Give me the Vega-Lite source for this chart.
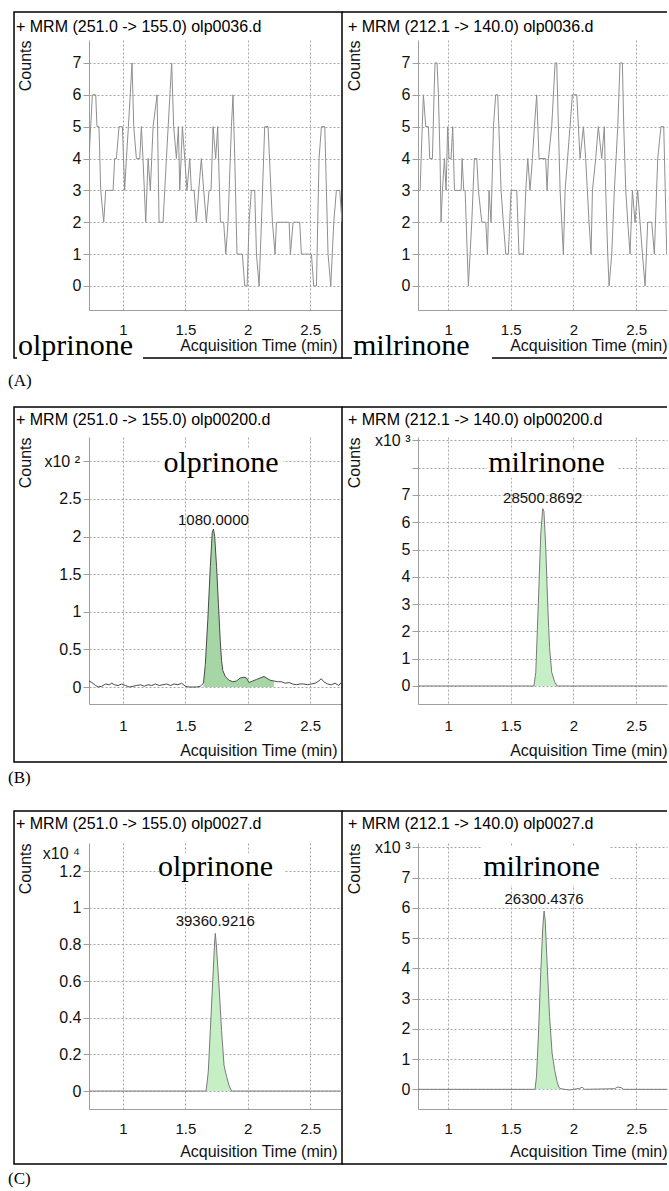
{
  "$schema": "https://vega.github.io/schema/vega-lite/v6.json",
  "background": "white",
  "padding": {"left": 8, "top": 11, "right": 0, "bottom": 0},
  "config": {
    "view": {"stroke": null},
    "axis": {"grid": true, "labelOverlap": false, "labelFlush": false, "tickCount": 30, "gridDash": [2, 2], "gridColor": "#a6a6a6", "gridOpacity": 1, "gridWidth": 1, "domainColor": "#9e9e9e", "tickColor": "#9e9e9e", "labelFont": "Liberation Sans", "titleFont": "Liberation Sans", "labelColor": "#111111", "titleColor": "#111111", "titleFontWeight": "normal", "titleFontSize": 16},
    "axisX": {"labelFontSize": 15, "ticks": false},
    "axisY": {"labelFontSize": 16, "tickSize": 6, "labelPadding": 2}
  },
  "datasets": {
    "aOlp": [{"t":0.727,"v":4},{"t":0.754,"v":6},{"t":0.781,"v":6},{"t":0.791,"v":5},{"t":0.807,"v":5},{"t":0.821,"v":3},{"t":0.845,"v":2},{"t":0.861,"v":3},{"t":0.92,"v":3},{"t":0.933,"v":4},{"t":0.947,"v":4},{"t":0.968,"v":5},{"t":0.995,"v":5},{"t":1.013,"v":3},{"t":1.027,"v":4},{"t":1.043,"v":5},{"t":1.072,"v":7},{"t":1.086,"v":5},{"t":1.107,"v":4},{"t":1.134,"v":4},{"t":1.147,"v":5},{"t":1.16,"v":4},{"t":1.182,"v":2},{"t":1.201,"v":4},{"t":1.219,"v":3},{"t":1.241,"v":5},{"t":1.273,"v":6},{"t":1.289,"v":2},{"t":1.321,"v":2},{"t":1.348,"v":4},{"t":1.39,"v":7},{"t":1.406,"v":5},{"t":1.428,"v":4},{"t":1.444,"v":5},{"t":1.455,"v":3},{"t":1.476,"v":5},{"t":1.495,"v":4},{"t":1.513,"v":3},{"t":1.535,"v":4},{"t":1.548,"v":3},{"t":1.57,"v":3},{"t":1.588,"v":2},{"t":1.607,"v":3},{"t":1.628,"v":4},{"t":1.647,"v":3},{"t":1.668,"v":2},{"t":1.69,"v":3},{"t":1.706,"v":3},{"t":1.722,"v":5},{"t":1.743,"v":4},{"t":1.759,"v":5},{"t":1.781,"v":2},{"t":1.807,"v":2},{"t":1.824,"v":1},{"t":1.842,"v":2},{"t":1.869,"v":5},{"t":1.882,"v":6},{"t":1.896,"v":4},{"t":1.914,"v":1},{"t":1.957,"v":1},{"t":1.976,"v":0},{"t":1.995,"v":0},{"t":2.011,"v":2},{"t":2.029,"v":3},{"t":2.056,"v":3},{"t":2.07,"v":1},{"t":2.091,"v":0},{"t":2.11,"v":2},{"t":2.136,"v":5},{"t":2.163,"v":5},{"t":2.198,"v":2},{"t":2.219,"v":1},{"t":2.23,"v":2},{"t":2.332,"v":2},{"t":2.342,"v":1},{"t":2.364,"v":2},{"t":2.417,"v":2},{"t":2.43,"v":1},{"t":2.511,"v":1},{"t":2.529,"v":0},{"t":2.551,"v":0},{"t":2.572,"v":4},{"t":2.591,"v":5},{"t":2.618,"v":5},{"t":2.644,"v":1},{"t":2.666,"v":0},{"t":2.69,"v":2},{"t":2.711,"v":3},{"t":2.738,"v":3},{"t":2.756,"v":2}],
    "aMil": [{"t":0.777,"v":3},{"t":0.785,"v":4},{"t":0.803,"v":6},{"t":0.822,"v":5},{"t":0.843,"v":5},{"t":0.854,"v":4},{"t":0.875,"v":4},{"t":0.888,"v":6},{"t":0.896,"v":7},{"t":0.912,"v":7},{"t":0.923,"v":6},{"t":0.936,"v":4},{"t":0.944,"v":2},{"t":0.955,"v":3},{"t":0.971,"v":4},{"t":0.984,"v":3},{"t":0.997,"v":5},{"t":1.008,"v":4},{"t":1.024,"v":4},{"t":1.037,"v":5},{"t":1.051,"v":3},{"t":1.104,"v":3},{"t":1.112,"v":4},{"t":1.125,"v":3},{"t":1.136,"v":3},{"t":1.162,"v":0},{"t":1.189,"v":2},{"t":1.21,"v":4},{"t":1.229,"v":4},{"t":1.242,"v":3},{"t":1.269,"v":2},{"t":1.301,"v":2},{"t":1.314,"v":1},{"t":1.327,"v":3},{"t":1.343,"v":2},{"t":1.362,"v":5},{"t":1.38,"v":6},{"t":1.396,"v":6},{"t":1.423,"v":3},{"t":1.441,"v":2},{"t":1.46,"v":1},{"t":1.481,"v":1},{"t":1.503,"v":3},{"t":1.548,"v":3},{"t":1.566,"v":1},{"t":1.601,"v":1},{"t":1.62,"v":3},{"t":1.636,"v":4},{"t":1.654,"v":3},{"t":1.673,"v":4},{"t":1.689,"v":5},{"t":1.707,"v":6},{"t":1.726,"v":4},{"t":1.779,"v":4},{"t":1.79,"v":3},{"t":1.801,"v":4},{"t":1.827,"v":5},{"t":1.854,"v":7},{"t":1.867,"v":7},{"t":1.894,"v":3},{"t":1.92,"v":1},{"t":1.934,"v":3},{"t":1.973,"v":5},{"t":1.992,"v":6},{"t":2.027,"v":6},{"t":2.053,"v":4},{"t":2.08,"v":5},{"t":2.098,"v":4},{"t":2.125,"v":2},{"t":2.141,"v":1},{"t":2.152,"v":3},{"t":2.178,"v":4},{"t":2.199,"v":5},{"t":2.226,"v":4},{"t":2.247,"v":5},{"t":2.258,"v":3},{"t":2.274,"v":1},{"t":2.285,"v":0},{"t":2.306,"v":1},{"t":2.327,"v":3},{"t":2.354,"v":5},{"t":2.372,"v":7},{"t":2.391,"v":7},{"t":2.402,"v":5},{"t":2.418,"v":3},{"t":2.434,"v":2},{"t":2.452,"v":1},{"t":2.471,"v":3},{"t":2.492,"v":2},{"t":2.513,"v":3},{"t":2.532,"v":2},{"t":2.551,"v":1},{"t":2.572,"v":0},{"t":2.593,"v":2},{"t":2.625,"v":2},{"t":2.646,"v":1},{"t":2.673,"v":4},{"t":2.699,"v":5},{"t":2.721,"v":5},{"t":2.745,"v":1}],
    "bOlp": [{"t":0.727,"v":8},{"t":0.75,"v":6},{"t":0.78,"v":2},{"t":0.8,"v":0},{"t":0.83,"v":1},{"t":0.86,"v":4},{"t":0.89,"v":3},{"t":0.91,"v":5},{"t":0.93,"v":3},{"t":0.96,"v":2},{"t":0.99,"v":4},{"t":1.02,"v":2},{"t":1.05,"v":0},{"t":1.08,"v":1},{"t":1.11,"v":2},{"t":1.14,"v":3},{"t":1.17,"v":1},{"t":1.2,"v":3},{"t":1.23,"v":2},{"t":1.26,"v":4},{"t":1.29,"v":2},{"t":1.32,"v":3},{"t":1.35,"v":4},{"t":1.38,"v":2},{"t":1.41,"v":4},{"t":1.44,"v":3},{"t":1.47,"v":5},{"t":1.5,"v":1},{"t":1.53,"v":0},{"t":1.56,"v":0},{"t":1.59,"v":0},{"t":1.62,"v":1},{"t":1.645,"v":5},{"t":1.66,"v":30},{"t":1.68,"v":90},{"t":1.7,"v":160},{"t":1.715,"v":205},{"t":1.725,"v":210,"label":"1080.0000"},{"t":1.735,"v":200},{"t":1.75,"v":160},{"t":1.765,"v":110},{"t":1.78,"v":60},{"t":1.79,"v":35},{"t":1.8,"v":22},{"t":1.82,"v":14},{"t":1.85,"v":9},{"t":1.88,"v":7},{"t":1.91,"v":8},{"t":1.94,"v":12},{"t":1.97,"v":13},{"t":1.99,"v":12},{"t":2.01,"v":6},{"t":2.04,"v":8},{"t":2.07,"v":10},{"t":2.1,"v":12},{"t":2.13,"v":14},{"t":2.15,"v":12},{"t":2.18,"v":9},{"t":2.21,"v":8},{"t":2.24,"v":7},{"t":2.27,"v":7},{"t":2.3,"v":5},{"t":2.33,"v":6},{"t":2.36,"v":4},{"t":2.39,"v":3},{"t":2.42,"v":4},{"t":2.45,"v":4},{"t":2.48,"v":3},{"t":2.51,"v":4},{"t":2.54,"v":5},{"t":2.57,"v":8},{"t":2.59,"v":11},{"t":2.61,"v":7},{"t":2.64,"v":4},{"t":2.67,"v":3},{"t":2.7,"v":5},{"t":2.73,"v":2},{"t":2.756,"v":7}],
    "bMil": [{"t":0.76,"v":0},{"t":1.685,"v":0},{"t":1.7,"v":500},{"t":1.72,"v":3000},{"t":1.74,"v":5600},{"t":1.755,"v":6500,"label":"28500.8692"},{"t":1.765,"v":6400},{"t":1.78,"v":5000},{"t":1.795,"v":3000},{"t":1.81,"v":1400},{"t":1.827,"v":500},{"t":1.85,"v":160},{"t":1.87,"v":0},{"t":2.747,"v":0}],
    "cOlp": [{"t":0.727,"v":0},{"t":1.665,"v":0},{"t":1.675,"v":500},{"t":1.684,"v":1100},{"t":1.7,"v":3300},{"t":1.72,"v":6100},{"t":1.735,"v":8200},{"t":1.74,"v":8600,"label":"39360.9216"},{"t":1.75,"v":7800},{"t":1.77,"v":5700},{"t":1.79,"v":3300},{"t":1.81,"v":1400},{"t":1.83,"v":800},{"t":1.85,"v":300},{"t":1.87,"v":0},{"t":2.756,"v":0}],
    "cMil": [{"t":0.76,"v":0},{"t":1.694,"v":0},{"t":1.705,"v":400},{"t":1.72,"v":1700},{"t":1.74,"v":3900},{"t":1.755,"v":5300},{"t":1.766,"v":5900,"label":"26300.4376"},{"t":1.775,"v":5600},{"t":1.79,"v":4200},{"t":1.81,"v":2400},{"t":1.83,"v":1200},{"t":1.85,"v":650},{"t":1.87,"v":250},{"t":1.885,"v":60},{"t":1.9,"v":20},{"t":1.93,"v":0},{"t":1.97,"v":-20},{"t":2.0,"v":0},{"t":2.05,"v":30},{"t":2.07,"v":70},{"t":2.09,"v":0},{"t":2.33,"v":20},{"t":2.35,"v":70},{"t":2.38,"v":60},{"t":2.4,"v":0},{"t":2.747,"v":0}]
  },
  "spacing": 23,
  "bounds": "full",
  "vconcat": [
    {
      "spacing": 17,
      "bounds": "full",
      "vconcat": [
        {
          "spacing": 76,
          "bounds": "flush",
          "hconcat": [
            {
              "width": 253, "height": 270,
              "layer": [
                {"data": {"values": [{}]}, "mark": {"type": "rect", "filled": false, "color": "black", "strokeWidth": 1.5},
                 "encoding": {"x": {"datum": 0.1256, "type": "quantitative", "scale": {"domain": [0.727, 2.756], "nice": false, "zero": false}}, "x2": {"datum": 2.756}, "y": {"datum": 8.599, "type": "quantitative", "scale": {"domain": [-0.755, 7.72], "nice": false, "zero": false}}, "y2": {"datum": -2.261}}},
                {"data": {"values": [{}]}, "mark": {"type": "rect", "color": "white"},
                 "encoding": {"x": {"datum": 0.1496, "type": "quantitative", "scale": {"domain": [0.727, 2.756], "nice": false, "zero": false}}, "x2": {"datum": 1.16}, "y": {"datum": -1.665, "type": "quantitative", "scale": {"domain": [-0.755, 7.72], "nice": false, "zero": false}}, "y2": {"datum": -2.512}}},
                {"data": {"name": "aOlp"}, "mark": {"type": "line", "color": "#8f8f8f", "strokeWidth": 1, "clip": true},
                 "encoding": {
                   "x": {"field": "t", "type": "quantitative", "scale": {"domain": [0.727, 2.756], "nice": false, "zero": false},
                         "axis": {"title": "Acquisition Time (min)", "grid": true, "labelOverlap": false, "tickCount": 30, "values": [1, 1.5, 2, 2.5], "format": "~g", "labelPadding": 12, "titleAnchor": "end", "titleAlign": "right", "titleX": 248, "titleY": 40, "titleBaseline": "alphabetic"}},
                   "y": {"field": "v", "type": "quantitative", "scale": {"domain": [-0.755, 7.72], "nice": false, "zero": false},
                         "axis": {"title": "Counts", "grid": true, "labelOverlap": false, "tickCount": 30, "values": [0, 1, 2, 3, 4, 5, 6, 7], "format": "d", "titleAnchor": "end", "titleAlign": "right", "titleAngle": 270, "titleX": -56, "titleY": 0, "titleBaseline": "bottom"}}}},
                {"data": {"values": [{}]}, "mark": {"type": "text", "text": "olprinone", "font": "Liberation Serif", "fontSize": 30, "align": "left", "baseline": "alphabetic", "color": "black"},
                 "encoding": {"x": {"datum": 0.1576, "type": "quantitative"}, "y": {"datum": -2.167, "type": "quantitative"}}},
                {"data": {"values": [{}]}, "mark": {"type": "text", "text": "+ MRM (251.0 -> 155.0) olp0036.d", "font": "Liberation Sans", "fontSize": 16, "align": "left", "baseline": "alphabetic", "color": "black"},
                 "encoding": {"x": {"datum": 0.1416, "type": "quantitative"}, "y": {"datum": 7.971, "type": "quantitative"}}},
                {"data": {"values": [{}]}, "mark": {"type": "text", "text": "(A)", "font": "Liberation Serif", "fontSize": 17, "align": "left", "baseline": "alphabetic", "color": "black"},
                 "encoding": {"x": {"datum": 0.0774, "type": "quantitative"}, "y": {"datum": -3.14, "type": "quantitative"}}}
              ]
            },
            {
              "width": 249, "height": 270,
              "layer": [
                {"data": {"values": [{}]}, "mark": {"type": "rule", "color": "black", "strokeWidth": 1.5},
                 "encoding": {"x": {"datum": 0.1535, "type": "quantitative", "scale": {"domain": [0.76, 2.747], "nice": false, "zero": false}}, "x2": {"datum": 2.747}, "y": {"datum": 8.599, "type": "quantitative", "scale": {"domain": [-0.755, 7.72], "nice": false, "zero": false}}}},
                {"data": {"values": [{}]}, "mark": {"type": "rule", "color": "black", "strokeWidth": 1.5},
                 "encoding": {"x": {"datum": 0.1535, "type": "quantitative"}, "x2": {"datum": 2.747}, "y": {"datum": -2.261, "type": "quantitative"}}},
                {"data": {"values": [{}]}, "mark": {"type": "rect", "color": "white"},
                 "encoding": {"x": {"datum": 0.2333, "type": "quantitative"}, "x2": {"datum": 1.3506}, "y": {"datum": -1.665, "type": "quantitative"}, "y2": {"datum": -2.512}}},
                {"data": {"name": "aMil"}, "mark": {"type": "line", "color": "#8f8f8f", "strokeWidth": 1, "clip": true},
                 "encoding": {
                   "x": {"field": "t", "type": "quantitative", "scale": {"domain": [0.76, 2.747], "nice": false, "zero": false},
                         "axis": {"title": "Acquisition Time (min)", "grid": true, "labelOverlap": false, "tickCount": 30, "values": [1, 1.5, 2, 2.5], "format": "~g", "labelPadding": 12, "titleAnchor": "end", "titleAlign": "right", "titleX": 249, "titleY": 40, "titleBaseline": "alphabetic"}},
                   "y": {"field": "v", "type": "quantitative", "scale": {"domain": [-0.755, 7.72], "nice": false, "zero": false},
                         "axis": {"title": "Counts", "grid": true, "labelOverlap": false, "tickCount": 30, "values": [0, 1, 2, 3, 4, 5, 6, 7], "format": "d", "titleAnchor": "end", "titleAlign": "right", "titleAngle": 270, "titleX": -56, "titleY": 0, "titleBaseline": "bottom"}}}},
                {"data": {"values": [{}]}, "mark": {"type": "text", "text": "milrinone", "font": "Liberation Serif", "fontSize": 30, "align": "left", "baseline": "alphabetic", "color": "black"},
                 "encoding": {"x": {"datum": 0.2412, "type": "quantitative"}, "y": {"datum": -2.167, "type": "quantitative"}}},
                {"data": {"values": [{}]}, "mark": {"type": "text", "text": "+ MRM (212.1 -> 140.0) olp0036.d", "font": "Liberation Sans", "fontSize": 16, "align": "left", "baseline": "alphabetic", "color": "black"},
                 "encoding": {"x": {"datum": 0.2014, "type": "quantitative"}, "y": {"datum": 7.971, "type": "quantitative"}}}
              ]
            }
          ]
        },
        {
          "spacing": 76,
          "bounds": "flush",
          "hconcat": [
            {
              "width": 253, "height": 267,
              "layer": [
                {"data": {"values": [{}]}, "mark": {"type": "rect", "filled": false, "color": "black", "strokeWidth": 1.5},
                 "encoding": {"x": {"datum": 0.1256, "type": "quantitative", "scale": {"domain": [0.727, 2.756], "nice": false, "zero": false}}, "x2": {"datum": 2.756}, "y": {"datum": 372.3, "type": "quantitative", "scale": {"domain": [-22.6, 332.4], "nice": false, "zero": false}}, "y2": {"datum": -99.8}}},
                {"data": {"values": [{}]}, "mark": {"type": "rect", "color": "white"},
                 "encoding": {"x": {"datum": 1.296, "type": "quantitative"}, "x2": {"datum": 2.283}, "y": {"datum": 316.4, "type": "quantitative"}, "y2": {"datum": 275.2}}},
                {"data": {"name": "bOlp"}, "transform": [{"filter": "datum.t >= 1.64 && datum.t <= 2.215"}], "mark": {"type": "area", "color": "#a6d6a6", "opacity": 1},
                 "encoding": {"x": {"field": "t", "type": "quantitative"}, "y": {"field": "v", "type": "quantitative"}, "y2": {"datum": 0}}},
                {"data": {"name": "bOlp"}, "mark": {"type": "line", "color": "#4a4a4a", "strokeWidth": 1, "clip": true},
                 "encoding": {
                   "x": {"field": "t", "type": "quantitative", "scale": {"domain": [0.727, 2.756], "nice": false, "zero": false},
                         "axis": {"title": "Acquisition Time (min)", "grid": true, "labelOverlap": false, "tickCount": 30, "values": [1, 1.5, 2, 2.5], "format": "~g", "labelPadding": 14, "titleAnchor": "end", "titleAlign": "right", "titleX": 248, "titleY": 51, "titleBaseline": "alphabetic"}},
                   "y": {"field": "v", "type": "quantitative", "scale": {"domain": [-22.6, 332.4], "nice": false, "zero": false},
                         "axis": {"title": "Counts", "grid": true, "labelOverlap": false, "tickCount": 30, "values": [0, 50, 100, 150, 200, 250, 300], "labelExpr": "datum.value == 300 ? '' : format(datum.value / 100, '~g')", "titleAnchor": "end", "titleAlign": "right", "titleAngle": 270, "titleX": -56, "titleY": 0, "titleBaseline": "bottom"}}}},
                {"data": {"name": "bOlp"}, "transform": [{"filter": "isValid(datum.label)"}], "mark": {"type": "text", "font": "Liberation Sans", "fontSize": 15, "baseline": "alphabetic", "align": "center", "dy": -4, "color": "#111111"},
                 "encoding": {"x": {"field": "t", "type": "quantitative"}, "y": {"field": "v", "type": "quantitative"}, "text": {"field": "label"}}},
                {"data": {"values": [{}]}, "mark": {"type": "text", "text": "olprinone", "font": "Liberation Serif", "fontSize": 30, "align": "center", "baseline": "alphabetic", "color": "black"},
                 "encoding": {"x": {"datum": 1.7855, "type": "quantitative"}, "y": {"datum": 285.9, "type": "quantitative"}}},
                {"data": {"values": [{}]}, "mark": {"type": "text", "text": "x10 ²", "font": "Liberation Sans", "fontSize": 16, "align": "right", "baseline": "alphabetic", "color": "#111111"},
                 "encoding": {"x": {"datum": 0.6548, "type": "quantitative"}, "y": {"datum": 292.5, "type": "quantitative"}}},
                {"data": {"values": [{}]}, "mark": {"type": "text", "text": "+ MRM (251.0 -> 155.0) olp00200.d", "font": "Liberation Sans", "fontSize": 16, "align": "left", "baseline": "alphabetic", "color": "black"},
                 "encoding": {"x": {"datum": 0.1416, "type": "quantitative"}, "y": {"datum": 348.4, "type": "quantitative"}}},
                {"data": {"values": [{}]}, "mark": {"type": "text", "text": "(B)", "font": "Liberation Serif", "fontSize": 17, "align": "left", "baseline": "alphabetic", "color": "black"},
                 "encoding": {"x": {"datum": 0.0774, "type": "quantitative"}, "y": {"datum": -127.7, "type": "quantitative"}}}
              ]
            },
            {
              "width": 249, "height": 267,
              "layer": [
                {"data": {"values": [{}]}, "mark": {"type": "rule", "color": "black", "strokeWidth": 1.5},
                 "encoding": {"x": {"datum": 0.1535, "type": "quantitative", "scale": {"domain": [0.76, 2.747], "nice": false, "zero": false}}, "x2": {"datum": 2.747}, "y": {"datum": 10224, "type": "quantitative", "scale": {"domain": [-660, 9125], "nice": false, "zero": false}}}},
                {"data": {"values": [{}]}, "mark": {"type": "rule", "color": "black", "strokeWidth": 1.5},
                 "encoding": {"x": {"datum": 0.1535, "type": "quantitative"}, "x2": {"datum": 2.747}, "y": {"datum": -2784, "type": "quantitative"}}},
                {"data": {"values": [{}]}, "mark": {"type": "rect", "color": "white"},
                 "encoding": {"x": {"datum": 1.3107, "type": "quantitative"}, "x2": {"datum": 2.3562}, "y": {"datum": 8649, "type": "quantitative"}, "y2": {"datum": 7623}}},
                {"data": {"name": "bMil"}, "transform": [{"filter": "datum.t >= 1.685 && datum.t <= 1.87"}], "mark": {"type": "area", "color": "#c6efc6", "opacity": 1},
                 "encoding": {"x": {"field": "t", "type": "quantitative"}, "y": {"field": "v", "type": "quantitative"}, "y2": {"datum": 0}}},
                {"data": {"name": "bMil"}, "mark": {"type": "line", "color": "#7a7a7a", "strokeWidth": 1, "clip": true},
                 "encoding": {
                   "x": {"field": "t", "type": "quantitative", "scale": {"domain": [0.76, 2.747], "nice": false, "zero": false},
                         "axis": {"title": "Acquisition Time (min)", "grid": true, "labelOverlap": false, "tickCount": 30, "values": [1, 1.5, 2, 2.5], "format": "~g", "labelPadding": 14, "titleAnchor": "end", "titleAlign": "right", "titleX": 249, "titleY": 51, "titleBaseline": "alphabetic"}},
                   "y": {"field": "v", "type": "quantitative", "scale": {"domain": [-660, 9125], "nice": false, "zero": false},
                         "axis": {"title": "Counts", "grid": true, "labelOverlap": false, "tickCount": 30, "values": [0, 1000, 2000, 3000, 4000, 5000, 6000, 7000, 8000, 9000], "labelExpr": "datum.value == 9000 ? 'x10 ³' : (datum.value == 8000 ? '' : '' + datum.value / 1000)", "titleAnchor": "end", "titleAlign": "right", "titleAngle": 270, "titleX": -56, "titleY": 0, "titleBaseline": "bottom"}}}},
                {"data": {"name": "bMil"}, "transform": [{"filter": "isValid(datum.label)"}], "mark": {"type": "text", "font": "Liberation Sans", "fontSize": 15, "baseline": "alphabetic", "align": "center", "dy": -6, "color": "#111111"},
                 "encoding": {"x": {"field": "t", "type": "quantitative"}, "y": {"field": "v", "type": "quantitative"}, "text": {"field": "label"}}},
                {"data": {"values": [{}]}, "mark": {"type": "text", "text": "milrinone", "font": "Liberation Serif", "fontSize": 30, "align": "center", "baseline": "alphabetic", "color": "black"},
                 "encoding": {"x": {"datum": 1.7855, "type": "quantitative"}, "y": {"datum": 7842, "type": "quantitative"}}},
                {"data": {"values": [{}]}, "mark": {"type": "text", "text": "+ MRM (212.1 -> 140.0) olp00200.d", "font": "Liberation Sans", "fontSize": 16, "align": "left", "baseline": "alphabetic", "color": "black"},
                 "encoding": {"x": {"datum": 0.2014, "type": "quantitative"}, "y": {"datum": 9565, "type": "quantitative"}}}
              ]
            }
          ]
        }
      ]
    },
    {
      "spacing": 76,
      "bounds": "flush",
      "hconcat": [
        {
          "width": 253, "height": 266,
          "layer": [
            {"data": {"values": [{}]}, "mark": {"type": "rect", "filled": false, "color": "black", "strokeWidth": 1.5},
             "encoding": {"x": {"datum": 0.1256, "type": "quantitative", "scale": {"domain": [0.727, 2.756], "nice": false, "zero": false}}, "x2": {"datum": 2.756}, "y": {"datum": 15276, "type": "quantitative", "scale": {"domain": [-980, 13530], "nice": false, "zero": false}}, "y2": {"datum": -3982}}},
            {"data": {"values": [{}]}, "mark": {"type": "rect", "color": "white"},
             "encoding": {"x": {"datum": 1.2883, "type": "quantitative"}, "x2": {"datum": 2.2988}, "y": {"datum": 12985, "type": "quantitative"}, "y2": {"datum": 11293}}},
            {"data": {"name": "cOlp"}, "transform": [{"filter": "datum.t >= 1.665 && datum.t <= 1.87"}], "mark": {"type": "area", "color": "#c6efc6", "opacity": 1},
             "encoding": {"x": {"field": "t", "type": "quantitative"}, "y": {"field": "v", "type": "quantitative"}, "y2": {"datum": 0}}},
            {"data": {"name": "cOlp"}, "mark": {"type": "line", "color": "#7a7a7a", "strokeWidth": 1, "clip": true},
             "encoding": {
               "x": {"field": "t", "type": "quantitative", "scale": {"domain": [0.727, 2.756], "nice": false, "zero": false},
                     "axis": {"title": "Acquisition Time (min)", "grid": true, "labelOverlap": false, "tickCount": 30, "values": [1, 1.5, 2, 2.5], "format": "~g", "labelPadding": 12, "titleAnchor": "end", "titleAlign": "right", "titleX": 248, "titleY": 47, "titleBaseline": "alphabetic"}},
               "y": {"field": "v", "type": "quantitative", "scale": {"domain": [-980, 13530], "nice": false, "zero": false},
                     "axis": {"title": "Counts", "grid": true, "labelOverlap": false, "tickCount": 30, "values": [0, 2000, 4000, 6000, 8000, 10000, 12000], "labelExpr": "'' + datum.value / 10000", "titleAnchor": "end", "titleAlign": "right", "titleAngle": 270, "titleX": -56, "titleY": 0, "titleBaseline": "bottom"}}}},
            {"data": {"name": "cOlp"}, "transform": [{"filter": "isValid(datum.label)"}], "mark": {"type": "text", "font": "Liberation Sans", "fontSize": 15, "baseline": "alphabetic", "align": "center", "dy": -7, "color": "#111111"},
             "encoding": {"x": {"field": "t", "type": "quantitative"}, "y": {"field": "v", "type": "quantitative"}, "text": {"field": "label"}}},
            {"data": {"values": [{}]}, "mark": {"type": "text", "text": "olprinone", "font": "Liberation Serif", "fontSize": 30, "align": "center", "baseline": "alphabetic", "color": "black"},
             "encoding": {"x": {"datum": 1.7414, "type": "quantitative"}, "y": {"datum": 11730, "type": "quantitative"}}},
            {"data": {"values": [{}]}, "mark": {"type": "text", "text": "x10 ⁴", "font": "Liberation Sans", "fontSize": 16, "align": "right", "baseline": "alphabetic", "color": "#111111"},
             "encoding": {"x": {"datum": 0.6548, "type": "quantitative"}, "y": {"datum": 12657, "type": "quantitative"}}},
            {"data": {"values": [{}]}, "mark": {"type": "text", "text": "+ MRM (251.0 -> 155.0) olp0027.d", "font": "Liberation Sans", "fontSize": 16, "align": "left", "baseline": "alphabetic", "color": "black"},
             "encoding": {"x": {"datum": 0.1416, "type": "quantitative"}, "y": {"datum": 14294, "type": "quantitative"}}},
            {"data": {"values": [{}]}, "mark": {"type": "text", "text": "(C)", "font": "Liberation Serif", "fontSize": 17, "align": "left", "baseline": "alphabetic", "color": "black"},
             "encoding": {"x": {"datum": 0.0774, "type": "quantitative"}, "y": {"datum": -5073, "type": "quantitative"}}}
          ]
        },
        {
          "width": 249, "height": 266,
          "layer": [
            {"data": {"values": [{}]}, "mark": {"type": "rule", "color": "black", "strokeWidth": 1.5},
             "encoding": {"x": {"datum": 0.1535, "type": "quantitative", "scale": {"domain": [0.76, 2.747], "nice": false, "zero": false}}, "x2": {"datum": 2.747}, "y": {"datum": 9207, "type": "quantitative", "scale": {"domain": [-651, 8148], "nice": false, "zero": false}}}},
            {"data": {"values": [{}]}, "mark": {"type": "rule", "color": "black", "strokeWidth": 1.5},
             "encoding": {"x": {"datum": 0.1535, "type": "quantitative"}, "x2": {"datum": 2.747}, "y": {"datum": -2471, "type": "quantitative"}}},
            {"data": {"values": [{}]}, "mark": {"type": "rect", "color": "white"},
             "encoding": {"x": {"datum": 1.2708, "type": "quantitative"}, "x2": {"datum": 2.2923}, "y": {"datum": 8049, "type": "quantitative"}, "y2": {"datum": 6759}}},
            {"data": {"name": "cMil"}, "transform": [{"filter": "datum.t >= 1.694 && datum.t <= 1.93"}], "mark": {"type": "area", "color": "#c6efc6", "opacity": 1},
             "encoding": {"x": {"field": "t", "type": "quantitative"}, "y": {"field": "v", "type": "quantitative"}, "y2": {"datum": 0}}},
            {"data": {"name": "cMil"}, "mark": {"type": "line", "color": "#7a7a7a", "strokeWidth": 1, "clip": true},
             "encoding": {
               "x": {"field": "t", "type": "quantitative", "scale": {"domain": [0.76, 2.747], "nice": false, "zero": false},
                     "axis": {"title": "Acquisition Time (min)", "grid": true, "labelOverlap": false, "tickCount": 30, "values": [1, 1.5, 2, 2.5], "format": "~g", "labelPadding": 12, "titleAnchor": "end", "titleAlign": "right", "titleX": 249, "titleY": 47, "titleBaseline": "alphabetic"}},
               "y": {"field": "v", "type": "quantitative", "scale": {"domain": [-651, 8148], "nice": false, "zero": false},
                     "axis": {"title": "Counts", "grid": true, "labelOverlap": false, "tickCount": 30, "values": [0, 1000, 2000, 3000, 4000, 5000, 6000, 7000, 8000], "labelExpr": "datum.value == 8000 ? 'x10 ³' : '' + datum.value / 1000", "titleAnchor": "end", "titleAlign": "right", "titleAngle": 270, "titleX": -56, "titleY": 0, "titleBaseline": "bottom"}}}},
            {"data": {"name": "cMil"}, "transform": [{"filter": "isValid(datum.label)"}], "mark": {"type": "text", "font": "Liberation Sans", "fontSize": 15, "baseline": "alphabetic", "align": "center", "dy": -7, "color": "#111111"},
             "encoding": {"x": {"field": "t", "type": "quantitative"}, "y": {"field": "v", "type": "quantitative"}, "text": {"field": "label"}}},
            {"data": {"values": [{}]}, "mark": {"type": "text", "text": "milrinone", "font": "Liberation Serif", "fontSize": 30, "align": "center", "baseline": "alphabetic", "color": "black"},
             "encoding": {"x": {"datum": 1.7456, "type": "quantitative"}, "y": {"datum": 7056, "type": "quantitative"}}},
            {"data": {"values": [{}]}, "mark": {"type": "text", "text": "+ MRM (212.1 -> 140.0) olp0027.d", "font": "Liberation Sans", "fontSize": 16, "align": "left", "baseline": "alphabetic", "color": "black"},
             "encoding": {"x": {"datum": 0.2014, "type": "quantitative"}, "y": {"datum": 8611, "type": "quantitative"}}}
          ]
        }
      ]
    }
  ]
}
